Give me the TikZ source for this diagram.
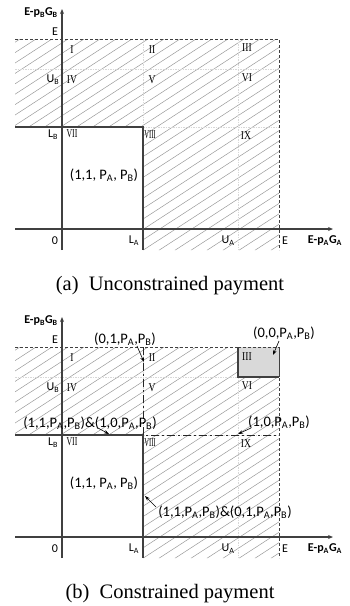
\documentclass[tikz,border=0pt]{standalone}
\usepackage{fontspec}
\usepackage{graphicx}
\setmainfont{Liberation Serif}
\newfontfamily\cfont{Carlito}
\usetikzlibrary{arrows.meta}
\definecolor{axcol}{HTML}{404040}
\definecolor{hatchcol}{HTML}{9A9A9A}
\definecolor{gridcol}{HTML}{D8D8D8}
\definecolor{boxfill}{HTML}{D9D9D9}
\newcommand{\rnum}[2][0.8]{\scalebox{#1}[1]{#2}}
\newcommand{\sub}[1]{\textsubscript{#1}}
\begin{document}
\begin{tikzpicture}[x=1pt,y=-1pt,
  axisline/.style={draw=axcol,line width=1.4pt,-{Stealth[length=5pt,width=4pt]}},
  solidline/.style={draw=axcol,line width=1.3pt},
  edash/.style={draw=axcol,line width=0.8pt,dash pattern=on 3pt off 2pt},
  gridline/.style={draw=gridcol,line width=0.9pt,dash pattern=on 1.5pt off 1pt},
  hatchline/.style={draw=hatchcol,line width=0.5pt},
  dashdot/.style={draw=black!85,line width=1pt,dash pattern=on 8pt off 3pt on 2pt off 3pt},
  lbl/.style={font=\cfont\fontsize{12}{12}\selectfont,inner sep=0pt},
  coordlbl/.style={font=\cfont\fontsize{14.5}{14.5}\selectfont,inner sep=0pt},
  rn/.style={font=\fontsize{12}{12}\selectfont,inner sep=0pt},
  axlbl/.style={font=\cfont\bfseries\fontsize{12}{12}\selectfont,inner sep=0pt},
  caption/.style={font=\fontsize{20.5}{20.5}\selectfont,inner sep=0pt},
  ptr/.style={-{Stealth[length=5pt,width=3.5pt]},line width=0.6pt,draw=black}]
\useasboundingbox (0,0) rectangle (350,606);

\foreach \dy/\p in {0/a,308/b}{
\begin{scope}[shift={(0,\dy)}]
  % hatching
  \begin{scope}
    \clip (15,39) -- (279,39) -- (279,250) -- (143,250) -- (143,127) -- (15,127) -- cycle;
    \foreach \k in {-22,...,19}{
      \draw[hatchline] (\k*16,260) -- ++(400,-260);
    }
  \end{scope}
  % faint grid
  \draw[gridline] (15,69) -- (279,69);
  \draw[gridline] (238,39) -- (238,250);
  \draw[gridline] (143,127) -- (279,127);
  \draw[gridline] (143,39) -- (143,127);
  % E lines
  \coordinate (Etl\p) at (15,39);
  \coordinate (Etr\p) at (279,39);
  \coordinate (Ebr\p) at (279,250);
  \draw[edash] (Etl\p) -- (Etr\p) -- (Ebr\p);
  % L lines
  \coordinate (Ll\p) at (15,127);
  \coordinate (Lc\p) at (143,127);
  \coordinate (Lb\p) at (143,250);
  \draw[solidline] (Ll\p) -- (Lc\p) -- (Lb\p);
  % axes
  \coordinate (ya0\p) at (62,250);
  \coordinate (ya1\p) at (62,9);
  \coordinate (xa0\p) at (15,229);
  \coordinate (xa1\p) at (333,229);
  \draw[axisline] (ya0\p) -- (ya1\p);
  \draw[axisline] (xa0\p) -- (xa1\p);
  % axis labels
  \node[axlbl] (ylab\p) at (41,13) {E-p\sub{B}G\sub{B}};
  \node[axlbl] (xlab\p) at (325,241) {E-p\sub{A}G\sub{A}};
  \node[lbl] (Ey\p) at (55,32) {E};
  \node[lbl] (UB\p) at (53,80) {U\sub{B}};
  \node[lbl] (LB\p) at (53,135) {L\sub{B}};
  \node[lbl] (O\p) at (55,241) {0};
  \node[lbl] (LA\p) at (134,241) {L\sub{A}};
  \node[lbl] (UA\p) at (228,241) {U\sub{A}};
  \node[lbl] (Ex\p) at (285,241) {E};
  % region numerals
  \node[rn] (r1\p) at (72,50) {\rnum{I}};
  \node[rn] (r2\p) at (152,50) {\rnum{II}};
  \node[rn] (r4\p) at (72,80) {\rnum{IV}};
  \node[rn] (r5\p) at (152,80) {\rnum{V}};
  \node[rn] (r6\p) at (247,78) {\rnum{VI}};
  \node[rn] (r7\p) at (72,134) {\rnum[0.65]{VII}};
  \node[rn] (r8\p) at (150,135) {\rnum[0.55]{VIII}};
  \node[rn] (r9\p) at (246,136) {\rnum{IX}};
  \node[coordlbl] (c11\p) at (104,175) {(1,1, P\sub{A}, P\sub{B})};
\end{scope}
}

% panel (a) specifics
\node[rn] (r3a) at (247,48) {\rnum{III}};
\node[caption,anchor=base] (capa) at (170,290) {(a)\enspace Unconstrained payment};

% panel (b) specifics
\coordinate (bx1) at (238,347);
\coordinate (bx2) at (279,347);
\coordinate (bx3) at (279,377);
\coordinate (bx4) at (238,377);
\fill[boxfill] (bx1) rectangle (bx3);
\draw[edash] (bx1) -- (bx2) -- (bx3);
\draw[solidline,line width=1.1pt] (bx1) -- (bx4) -- (bx3);
\node[rn] (r3b) at (247,357) {\rnum{III}};

\coordinate (dd1) at (143,347);
\coordinate (dd2) at (143,435);
\coordinate (dd3) at (279,435);
\draw[dashdot] (dd1) -- (dd2) -- (dd3);

\node[coordlbl] (t01) at (125,339) {(0,1,P\sub{A},P\sub{B})};
\coordinate (h01) at (144,362);
\draw[ptr] (137,346) -- (h01);

\node[coordlbl] (t00) at (284,333) {(0,0,P\sub{A},P\sub{B})};
\coordinate (h00) at (273,355);
\draw[ptr] (279,341) -- (h00);

\node[coordlbl] (t1110) at (90,423) {(1,1,P\sub{A},P\sub{B})\&(1,0,P\sub{A},P\sub{B})};
\coordinate (h1110) at (109,434);
\draw[ptr] (98,428) -- (h1110);

\node[coordlbl] (t10) at (279,422) {(1,0,P\sub{A},P\sub{B})};
\coordinate (h10) at (238,434);
\draw[ptr] (251,428) -- (h10);

\node[coordlbl] (t1101) at (225,512) {(1,1,P\sub{A},P\sub{B})\&(0,1,P\sub{A},P\sub{B})};
\coordinate (h1101) at (145,496);
\draw[ptr] (156,507) -- (h1101);

\node[caption,anchor=base] (capb) at (170,598) {(b)\enspace Constrained payment};
\end{tikzpicture}
\end{document}
